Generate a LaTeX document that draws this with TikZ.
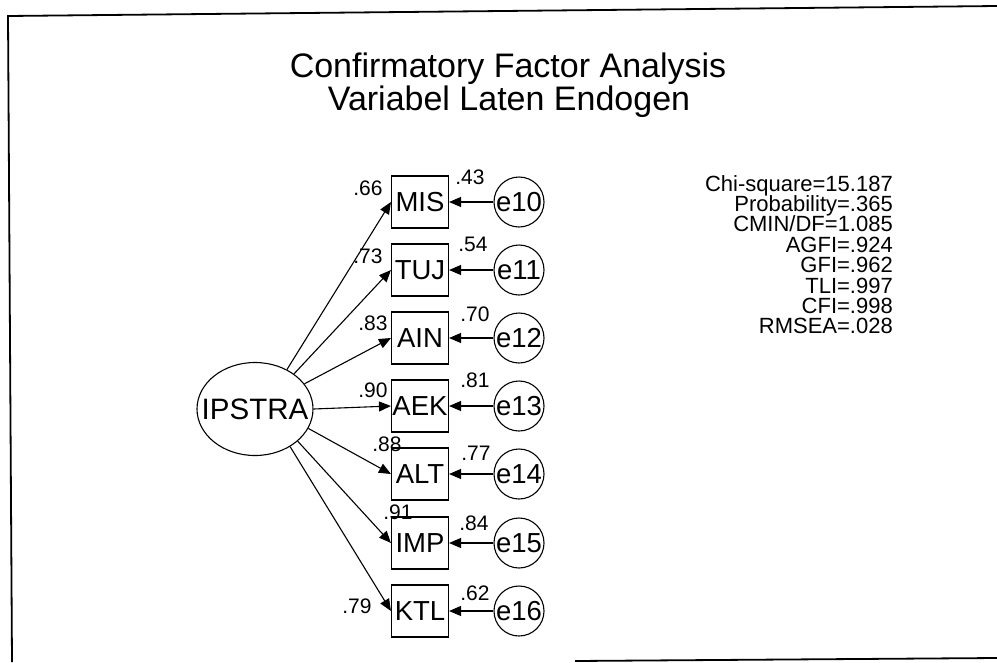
\documentclass[tikz,border=0pt]{standalone}
\usepackage{fontspec}
\setmainfont{Liberation Sans}
\usetikzlibrary{arrows.meta,shapes.geometric}
\newcommand{\fitfont}{\fontsize{22}{20.4}\selectfont\setlength{\lineskiplimit}{-30pt}}
\begin{document}
\begin{tikzpicture}[x=1pt,y=-1pt,
  obs/.style={draw,line width=1.1pt,minimum width=57pt,minimum height=52pt,inner sep=0pt,font=\fontsize{27.5}{27.5}\selectfont},
  err/.style={draw,circle,line width=1.1pt,minimum size=50pt,inner sep=0pt,font=\fontsize{27.5}{27.5}\selectfont},
  lat/.style={draw,ellipse,line width=1.1pt,minimum width=116pt,minimum height=93pt,inner sep=0pt,font=\fontsize{29.5}{29.5}\selectfont},
  coef/.style={inner sep=0pt,font=\fontsize{21}{21}\selectfont},
  sempath/.style={line width=1.1pt,-{Triangle[length=12pt,width=10pt]}},
  frameline/.style={line width=1.8pt}
]
\fill[white] (0,0) rectangle (997,662);
\useasboundingbox (0,0) rectangle (997,662);

% frame
\draw[frameline] (12,662) -- (8,16) -- (997,6);
\draw[frameline] (575,661) -- (997,658);

% title
\node[anchor=base,inner sep=0pt,font=\fontsize{34}{34}\selectfont] (t1) at (508,77) {Confirmatory Factor Analysis};
\node[anchor=base,inner sep=0pt,font=\fontsize{34}{34}\selectfont] (t2) at (509,110) {Variabel Laten Endogen};

% latent
\node[lat] (ip) at (255,409) {\makebox[0pt]{IPSTRA}};

% observed
\node[obs] (mis) at (420,202) {MIS};
\node[obs] (tuj) at (420,270) {TUJ};
\node[obs] (ain) at (420,338) {AIN};
\node[obs] (aek) at (420,406) {AEK};
\node[obs] (alt) at (420,474) {ALT};
\node[obs] (imp) at (420,543) {IMP};
\node[obs] (ktl) at (420,611) {KTL};

% errors
\node[err] (e10) at (519,202) {\makebox[0pt]{e10}};
\node[err] (e11) at (519,270) {\makebox[0pt]{e11}};
\node[err] (e12) at (519,338) {\makebox[0pt]{e12}};
\node[err] (e13) at (519,406) {\makebox[0pt]{e13}};
\node[err] (e14) at (519,474) {\makebox[0pt]{e14}};
\node[err] (e15) at (519,543) {\makebox[0pt]{e15}};
\node[err] (e16) at (519,611) {\makebox[0pt]{e16}};

% loadings
\draw[sempath] (ip.51) -- (mis.west);
\draw[sempath] (ip.42) -- (tuj.west);
\draw[sempath] (ip.27) -- (ain.west);
\draw[sempath] (ip.0) -- (aek.west);
\draw[sempath] (ip.-20) -- (alt.west);
\draw[sempath] (ip.-37) -- (imp.west);
\draw[sempath] (ip.-47) -- (ktl.west);

% error paths
\draw[sempath] (e10) -- (mis);
\draw[sempath] (e11) -- (tuj);
\draw[sempath] (e12) -- (ain);
\draw[sempath] (e13) -- (aek);
\draw[sempath] (e14) -- (alt);
\draw[sempath] (e15) -- (imp);
\draw[sempath] (e16) -- (ktl);

% loading values
\node[coef] (l66) at (368,188) {.66};
\node[coef] (l73) at (368,256) {.73};
\node[coef] (l83) at (373,323) {.83};
\node[coef] (l90) at (373,390) {.90};
\node[coef] (l88) at (387,444) {.88};
\node[coef] (l91) at (398,512) {.91};
\node[coef] (l79) at (357,606) {.79};

% squared multiple correlations
\node[coef] (r43) at (470,177) {.43};
\node[coef] (r54) at (473,244) {.54};
\node[coef] (r70) at (475,314) {.70};
\node[coef] (r81) at (475,380) {.81};
\node[coef] (r77) at (476,453) {.77};
\node[coef] (r84) at (474,523) {.84};
\node[coef] (r62) at (475,593) {.62};

% fit statistics
\node[anchor=north east,align=right,inner sep=0pt,font=\fitfont] (fit) at (893,175)
 {Chi-square=15.187\\Probability=.365\\CMIN/DF=1.085\\AGFI=.924\\GFI=.962\\TLI=.997\\CFI=.998\\RMSEA=.028};
\end{tikzpicture}
\end{document}
